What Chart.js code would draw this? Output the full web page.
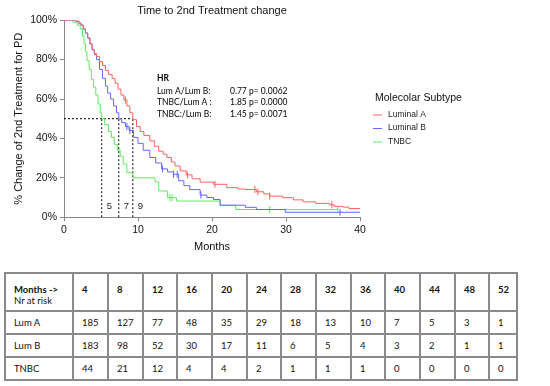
<!DOCTYPE html>
<html>
<head>
<meta charset="utf-8">
<script src="https://cdn.jsdelivr.net/npm/chart.js@4.4.0/dist/chart.umd.min.js"></script>
<style>
  body { margin: 0; background: #fff; width: 550px; height: 386px; overflow: hidden; }
  #wrap { position: relative; width: 550px; height: 259px; }
  table { position: absolute; left: 4px; top: 272px; width: 512px; table-layout: fixed;
          border-collapse: separate; border-spacing: 0; border: 1px solid #8a8a8a;
          font-family: Lato, "Open Sans", sans-serif; font-size: 9.5px; line-height: 11px; color: #111; }
  td { box-sizing: border-box; border: 1px solid #8a8a8a; padding: 0 0 0 8px; text-align: left; }
  tr { height: 23px; }
  tr.head { height: 38px; }
  tr.head td { vertical-align: top; padding-top: 10px; font-weight: bold; }
  tr.head td span { font-weight: normal; }
</style>
</head>
<body>
<div id="wrap"><canvas id="myCanvas" width="550" height="259"></canvas></div>
<table id="riskTable"></table>
<script>
// Kaplan-Meier curves (months, % without change)
var lumATime = [0, 1.7, 2.0, 2.3, 2.6, 2.9, 3.2, 3.5, 3.8, 4.1, 4.4, 4.8, 5.2, 5.6, 6.0, 6.5, 6.9, 7.3, 7.7, 8.1, 8.5, 8.9, 9.3, 9.8, 10.3, 10.8, 11.6, 12.2, 12.8, 13.4, 13.9, 14.5, 15.0, 15.7, 16.5, 17.3, 18.4, 20.2, 22.0, 23.5, 24.5, 26.0, 27.0, 27.8, 29.5, 31.0, 32.3, 34.0, 35.9, 36.5, 37.7, 38.5, 40];
var lumASurv = [100, 99.5, 98.5, 97.5, 95.5, 93.5, 91, 88, 85, 83, 81.5, 79, 77, 74.5, 72.5, 70.5, 68, 65, 62, 59.5, 56.5, 53, 49.5, 46, 43.5, 41.5, 38.8, 36, 33.5, 32, 30.3, 28, 26, 23.5, 21.5, 19.5, 17.8, 16.7, 15, 14.3, 14.1, 12.9, 11.8, 10.7, 9.9, 8.8, 7.8, 7, 6.3, 5.5, 5.1, 4.4, 4.4];

var lumBTime = [0, 1.6, 2.0, 2.3, 2.6, 2.9, 3.2, 3.5, 3.8, 4.1, 4.4, 4.8, 5.2, 5.6, 5.9, 6.3, 6.7, 7.1, 7.4, 7.8, 8.3, 8.8, 9.4, 10.0, 10.7, 11.6, 12.4, 13.2, 14.0, 14.8, 15.5, 16.2, 17.0, 18.4, 19.3, 20.2, 21.1, 24.5, 26.0, 29.9, 40];
var lumBSurv = [100, 99.5, 98.5, 97.5, 95.5, 93.5, 91, 88, 85, 82.5, 80, 75, 70.5, 66.5, 63, 60, 56.5, 53, 50, 48, 46, 44, 40.5, 37.5, 34, 30.3, 27.5, 24.5, 23, 21.8, 18.5, 16, 14, 11.2, 10, 9, 6.1, 5, 3.9, 2.5, 2.5];

var tnbcTime = [0, 1.2, 1.8, 2.2, 2.5, 2.7, 2.9, 3.1, 3.4, 3.7, 4.0, 4.3, 4.6, 4.9, 5.1, 5.5, 6.0, 6.4, 6.8, 7.2, 7.6, 8.0, 8.5, 9.3, 12.3, 12.8, 14.0, 15.2, 21.1, 23.2, 37];
var tnbcSurv = [100, 99, 97.5, 95.5, 92, 88, 84, 79.5, 75, 70, 66, 62, 57.5, 53, 50, 47, 43.5, 40.5, 37, 34, 31, 27, 22.6, 20, 17.9, 13.3, 9.9, 8.2, 6, 3.9, 3.9];

// censored observations
var lumACensT = [8.3, 16.7, 20.4, 25.8, 26.2, 27.8, 36.2];
var lumACensS = [59.5, 21.5, 16.7, 14.1, 12.9, 10.7, 6.3];
var lumBCensT = [8.5, 8.9, 13.3, 14.8, 15.3, 18.5, 37.3];
var lumBCensS = [46, 44, 24.5, 21.8, 21.8, 11.2, 2.5];
var tnbcCensT = [14.3, 14.6, 27.8, 37];
var tnbcCensS = [9.9, 9.9, 3.9, 3.9];

// medians
var medianTimes = [5.1, 7.4, 9.3];
var medianLabels = ['5', '7', '9'];

var seriesNames = ['Luminal A', 'Luminal B', 'TNBC'];
var seriesColors = ['rgb(255,96,96)', 'rgb(100,100,255)', 'rgb(96,232,96)'];

var hrLabels = ['Lum A/Lum B:', 'TNBC/Lum A :', 'TNBC:/Lum B:'];
var hrValues = ['0.77 p= 0.0062', '1.85 p= 0.0000', '1.45 p= 0.0071'];

// numbers at risk
var riskMonths = [4, 8, 12, 16, 20, 24, 28, 32, 36, 40, 44, 48, 52];
var riskLumA = [185, 127, 77, 48, 35, 29, 18, 13, 10, 7, 5, 3, 1];
var riskLumB = [183, 98, 52, 30, 17, 11, 6, 5, 4, 3, 2, 1, 1];
var riskTnbc = [44, 21, 12, 4, 4, 2, 1, 1, 1, 0, 0, 0, 0];
var riskNames = ['Lum A', 'Lum B', 'TNBC'];

function pts(xs, ys){
    return xs.map(function(x, i){ return {x: x, y: ys[i]}; });
}

var curves = [[lumATime, lumASurv], [lumBTime, lumBSurv], [tnbcTime, tnbcSurv]];
var censors = [[lumACensT, lumACensS], [lumBCensT, lumBCensS], [tnbcCensT, tnbcCensS]];

var datasets = [];
curves.forEach(function(c, i){
    datasets.push({
        label: seriesNames[i],
        data: pts(c[0], c[1]),
        borderColor: seriesColors[i],
        borderWidth: 1,
        stepped: true,
        pointRadius: 0,
        fill: false
    });
});
censors.forEach(function(c, i){
    datasets.push({
        label: seriesNames[i] + ' censored',
        data: pts(c[0], c[1]),
        showLine: false,
        borderColor: seriesColors[i],
        pointStyle: 'line',
        rotation: 90,
        pointRadius: 3.5,
        pointBorderWidth: 1
    });
});
// dotted median guides
var lastMedian = medianTimes[medianTimes.length - 1];
datasets.push({
    label: 'median',
    data: [{x: 0, y: 50}, {x: lastMedian, y: 50}],
    borderColor: '#000', borderWidth: 1, borderDash: [2, 2], pointRadius: 0
});
medianTimes.forEach(function(t){
    datasets.push({
        label: 'median',
        data: [{x: t, y: 0}, {x: t, y: 50}],
        borderColor: '#000', borderWidth: 1, borderDash: [2, 2], pointRadius: 0
    });
});

var extras = {
    id: 'extras',
    afterDraw: function(chart){
        var ctx = chart.ctx;
        var xs = chart.scales.x, ys = chart.scales.y;
        ctx.save();
        // median numbers
        ctx.fillStyle = '#222';
        ctx.font = '9.5px "Liberation Sans", Arial, sans-serif';
        ctx.textBaseline = 'middle';
        medianTimes.forEach(function(t, i){
            ctx.fillText(medianLabels[i], xs.getPixelForValue(t) + 5, ys.getPixelForValue(5.5));
        });
        // hazard ratios
        var hx = chart.chartArea.left + 93, hy = 78;
        ctx.fillStyle = '#000';
        ctx.font = 'bold 8.5px Lato, sans-serif';
        ctx.fillText('HR', hx, hy);
        ctx.font = '8.5px Lato, sans-serif';
        hrLabels.forEach(function(l, i){
            ctx.fillText(l, hx, hy + 13 + i * 11.5);
            ctx.fillText(hrValues[i], hx + 73, hy + 13 + i * 11.5);
        });
        // legend
        var lx = chart.chartArea.right + 13;
        ctx.font = '10.5px "Liberation Sans", Arial, sans-serif';
        ctx.fillStyle = '#111';
        ctx.fillText('Molecolar Subtype', lx + 2, 98);
        ctx.font = '8.5px "Liberation Sans", Arial, sans-serif';
        seriesNames.forEach(function(n, i){
            var y = 114.5 + i * 13.5;
            ctx.strokeStyle = seriesColors[i];
            ctx.lineWidth = 1;
            ctx.beginPath();
            ctx.moveTo(lx, y + 0.5);
            ctx.lineTo(lx + 9, y + 0.5);
            ctx.stroke();
            ctx.fillStyle = '#222';
            ctx.fillText(n, lx + 15, y);
        });
        ctx.restore();
    }
};

var axisFont = {family: '"Liberation Sans", Arial, sans-serif', size: 10.5};
var ctx = document.getElementById('myCanvas').getContext('2d');
var myChart = new Chart(ctx, {
    type: 'line',
    data: {datasets: datasets},
    options: {
        responsive: false,
        animation: false,
        layout: {padding: {left: 0, right: 190, top: 0, bottom: 3}},
        plugins: {
            legend: {display: false},
            tooltip: {enabled: false},
            title: {
                display: true,
                fullSize: false,
                text: 'Time to 2nd Treatment change',
                color: '#111',
                font: {family: '"Liberation Sans", Arial, sans-serif', size: 11, weight: 'normal'},
                padding: {top: 4, bottom: 3}
            }
        },
        scales: {
            x: {
                type: 'linear', min: 0, max: 40,
                ticks: {stepSize: 10, color: '#111', font: axisFont, padding: 3, maxRotation: 0},
                grid: {drawOnChartArea: false, tickLength: 4, color: '#888'},
                border: {color: '#888'},
                title: {display: true, text: 'Months', color: '#111',
                        font: {family: '"Liberation Sans", Arial, sans-serif', size: 11}, padding: {top: 1, bottom: 2}}
            },
            y: {
                min: 0, max: 100,
                ticks: {stepSize: 20, color: '#111', font: axisFont, padding: 3,
                        callback: function(v){ return v + '%'; }},
                grid: {drawOnChartArea: false, tickLength: 4, color: '#888'},
                border: {color: '#888'},
                title: {display: true, text: '% Change of 2nd Treatment for PD', color: '#111',
                        font: {family: '"Liberation Sans", Arial, sans-serif', size: 11}, padding: {top: 12, bottom: 0}},
                afterFit: function(s){ s.width = 64; }
            }
        }
    },
    plugins: [extras]
});

// number at risk table
var table = document.getElementById('riskTable');
var colWidths = [68, 35, 35, 34, 35, 35, 34, 35, 35, 34, 35, 35, 34, 28];
var head = '<tr class="head"><td style="width:' + colWidths[0] + 'px">Months -&gt;<br><span>Nr at risk</span></td>';
riskMonths.forEach(function(m, i){ head += '<td style="width:' + colWidths[i + 1] + 'px">' + m + '</td>'; });
head += '</tr>';
var rows = '';
[riskLumA, riskLumB, riskTnbc].forEach(function(r, k){
    rows += '<tr><td>' + riskNames[k] + '</td>';
    r.forEach(function(v){ rows += '<td>' + v + '</td>'; });
    rows += '</tr>';
});
table.innerHTML = head + rows;
</script>
</body>
</html>
